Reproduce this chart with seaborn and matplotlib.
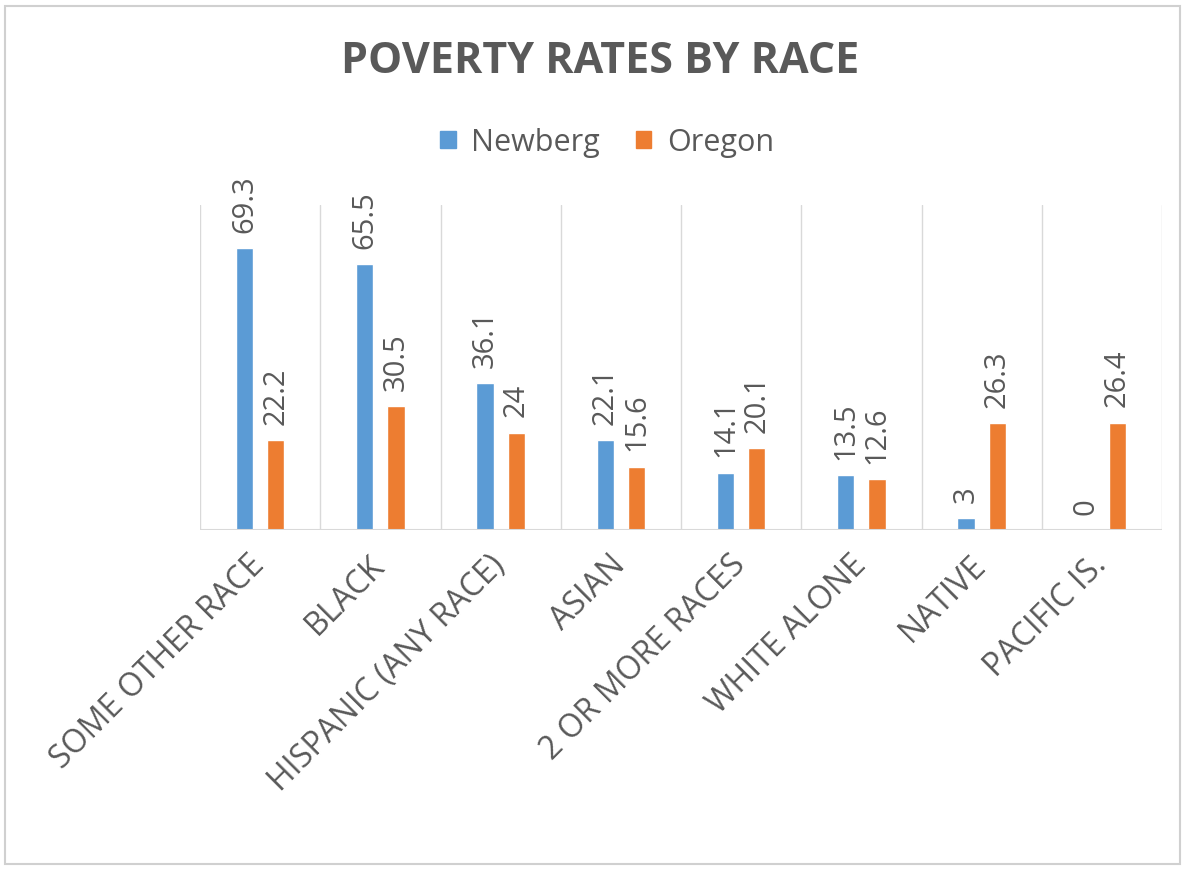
import numpy as np
import pandas as pd
import matplotlib
matplotlib.use("Agg")
import matplotlib.pyplot as plt
from matplotlib.patches import Rectangle
import seaborn as sns

# Chart data
races = ["SOME OTHER RACE", "BLACK", "HISPANIC (ANY RACE)", "ASIAN",
         "2 OR MORE RACES", "WHITE ALONE", "NATIVE", "PACIFIC IS."]
newberg = [69.3, 65.5, 36.1, 22.1, 14.1, 13.5, 3, 0]
oregon = [22.2, 30.5, 24, 15.6, 20.1, 12.6, 26.3, 26.4]
newberg_labels = ["69.3", "65.5", "36.1", "22.1", "14.1", "13.5", "3", "0"]
oregon_labels = ["22.2", "30.5", "24", "15.6", "20.1", "12.6", "26.3", "26.4"]
places = ["Newberg", "Oregon"]

df = pd.DataFrame({
    "race": races * 2,
    "rate": newberg + oregon,
    "place": [places[0]] * len(races) + [places[1]] * len(races),
})

sns.set_style("white")
plt.rcParams["font.family"] = ["Open Sans", "DejaVu Sans"]
text_gray = "#595959"
grid_gray = "#D9D9D9"
palette = {"Newberg": "#5B9BD5", "Oregon": "#ED7D31"}

fig = plt.figure(figsize=(11.88, 8.69), dpi=100)
ax = fig.add_axes([200 / 1188, 1 - 530 / 869, 962 / 1188, (530 - 205) / 869])

sns.barplot(data=df, x="race", y="rate", hue="place", palette=palette,
            width=0.52, gap=0.45, ax=ax, legend=False, saturation=1)

for container, labels in zip(ax.containers, [newberg_labels, oregon_labels]):
    ax.bar_label(container, labels=labels, rotation=90, padding=11,
                 fontsize=21, color=text_gray)

ax.set_xlim(-0.5, len(races) - 0.5)
ax.set_ylim(0, 80)
ax.set_xticks(np.arange(-0.5, len(races), 1), minor=True)
ax.grid(which="minor", axis="x", color=grid_gray, lw=1)
ax.grid(which="major", visible=False)
ax.axhline(0, color=grid_gray, lw=1.5)
for s in ax.spines.values():
    s.set_visible(False)
ax.set_yticks([])
ax.set_xlabel("")
ax.set_ylabel("")
ax.set_xticks(range(len(races)))
ax.set_xticklabels(races, rotation=45, ha="right", va="center",
                   rotation_mode="anchor", fontsize=23, color=text_gray)
ax.tick_params(which="both", length=0)
ax.tick_params(axis="x", pad=22)

fig.text(0.505, 0.929, "POVERTY RATES BY RACE", ha="center", va="center",
         fontsize=31, fontweight="bold", color=text_gray)

handles = [plt.Rectangle((0, 0), 1, 1, color=palette[p]) for p in places]
fig.legend(handles, places, loc="center", bbox_to_anchor=(0.511, 0.836),
           ncol=2, frameon=False, fontsize=22, labelcolor=text_gray,
           handlelength=0.5, handleheight=0.5, handletextpad=0.5,
           columnspacing=1.2)

fig.add_artist(Rectangle((5 / 1188, 5 / 869), 1175 / 1188, 858 / 869,
                         transform=fig.transFigure, fill=False,
                         edgecolor="#D0D0D0", lw=1.5))

fig.savefig("out.png", dpi=100)
